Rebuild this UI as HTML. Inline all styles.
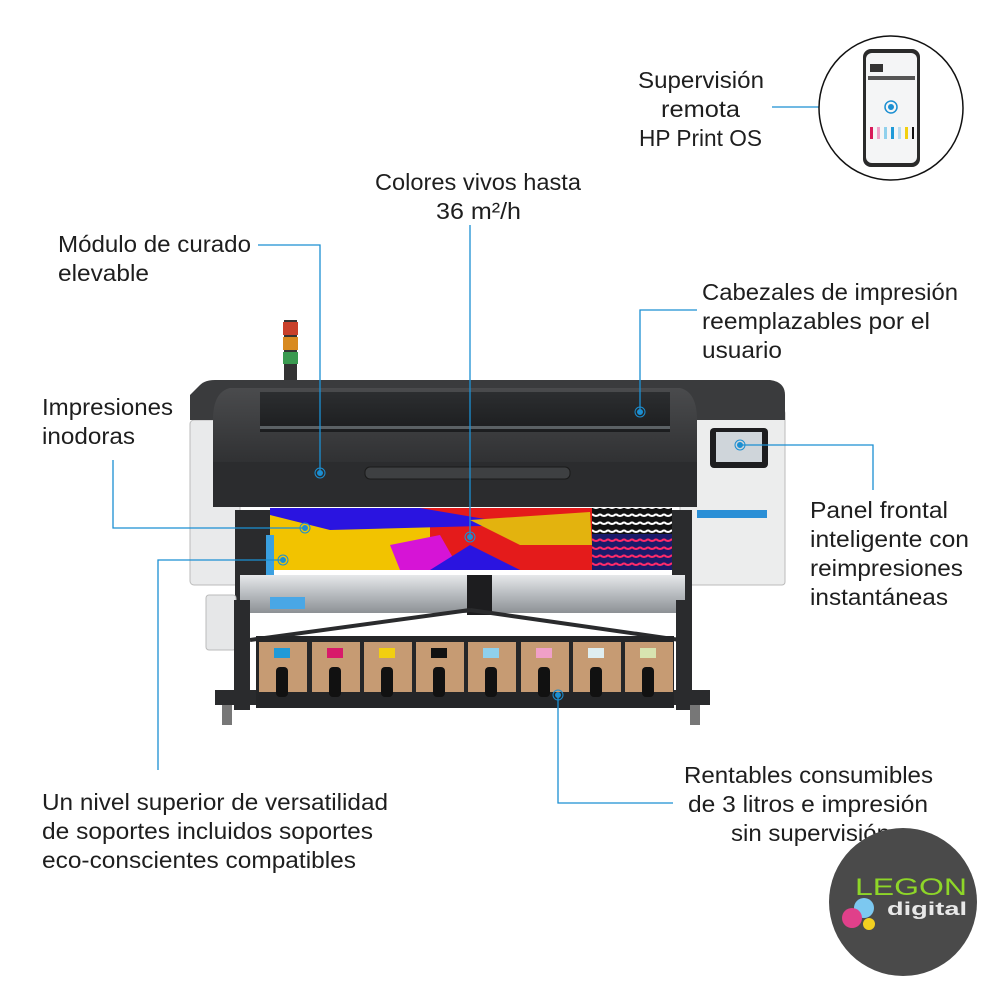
<!DOCTYPE html>
<html><head><meta charset="utf-8"><style>
html,body{margin:0;padding:0;background:#fff;}
svg{display:block;}
text{font-family:"Liberation Sans",sans-serif;font-size:23px;fill:#1e1e1e;}
</style></head><body>
<svg width="1000" height="1000" viewBox="0 0 1000 1000" xmlns="http://www.w3.org/2000/svg">
<defs>
<linearGradient id="body" x1="0" y1="0" x2="0" y2="1"><stop offset="0" stop-color="#4a4b4d"/><stop offset="1" stop-color="#2a2b2d"/></linearGradient>
<linearGradient id="glass" x1="0" y1="0" x2="0" y2="1"><stop offset="0" stop-color="#2c2e30"/><stop offset="1" stop-color="#1c1d1f"/></linearGradient>
<linearGradient id="roll" x1="0" y1="0" x2="0" y2="1"><stop offset="0" stop-color="#e6e8ea"/><stop offset="0.5" stop-color="#b8bcc0"/><stop offset="1" stop-color="#8d9195"/></linearGradient>
<pattern id="zig" width="8" height="8" patternUnits="userSpaceOnUse"><rect width="8" height="8" fill="#111"/><path d="M0 2 Q4 6 8 2" stroke="#fff" stroke-width="2" fill="none"/></pattern>
<pattern id="zig2" width="8" height="8" patternUnits="userSpaceOnUse"><rect width="8" height="8" fill="#1a1a6a"/><path d="M0 3 Q4 7 8 3" stroke="#ff2a6a" stroke-width="2" fill="none"/></pattern>
</defs>

<!-- signal tower -->
<rect x="284" y="320" width="13" height="60" fill="#333"/>
<rect x="283" y="322" width="15" height="13" fill="#c8402a"/>
<rect x="283" y="337" width="15" height="13" fill="#d88a20"/>
<rect x="283" y="352" width="15" height="12" fill="#3a9a50"/>

<!-- side cabinets -->
<rect x="190" y="420" width="50" height="165" rx="4" fill="#e9eaeb" stroke="#bbb"/>
<rect x="680" y="410" width="105" height="175" rx="3" fill="#eceded" stroke="#bbb"/>
<rect x="697" y="510" width="70" height="8" fill="#2a8fd6"/>
<!-- top body -->
<path d="M200 385 Q205 380 215 380 L770 380 Q785 382 785 395 L785 420 L190 420 L190 395 Z" fill="#3a3b3d"/>
<!-- control panel -->
<rect x="710" y="428" width="58" height="40" rx="4" fill="#1d1d1f"/>
<rect x="716" y="432" width="46" height="30" fill="#cfd5da"/>
<!-- front cover -->
<path d="M230 388 L680 388 Q697 392 697 420 L697 480 L213 480 L213 420 Q213 392 230 388 Z" fill="url(#body)"/>
<rect x="260" y="392" width="410" height="40" fill="url(#glass)"/>
<rect x="260" y="426" width="410" height="3" fill="#5b6165"/>
<rect x="213" y="462" width="484" height="45" fill="#2b2c2e"/>
<rect x="365" y="467" width="205" height="12" rx="5" fill="#3e4042" stroke="#1a1a1a"/>
<!-- printed banner -->
<rect x="270" y="508" width="322" height="62" fill="#e41b1b"/>
<polygon points="270,508 330,508 430,525 430,570 270,570" fill="#f2c300"/>
<polygon points="270,508 420,508 520,525 330,530 270,515" fill="#2a14e0"/>
<polygon points="390,545 440,535 460,570 400,570" fill="#d614d6"/>
<polygon points="470,520 590,512 592,545 520,545" fill="#e3b30e"/>
<polygon points="430,570 470,545 520,570" fill="#2a14e0"/>
<rect x="592" y="508" width="80" height="26" fill="url(#zig)"/>
<rect x="592" y="534" width="80" height="36" fill="url(#zig2)"/>
<!-- roll ends -->
<rect x="235" y="510" width="35" height="90" fill="#2a2b2d"/>
<rect x="266" y="535" width="8" height="45" fill="#3aa0e0"/>
<rect x="672" y="510" width="20" height="95" fill="#2a2b2d"/>
<!-- take-up roller -->
<rect x="240" y="575" width="445" height="38" fill="url(#roll)"/>
<rect x="270" y="597" width="35" height="12" fill="#49a7e6"/>
<rect x="467" y="575" width="25" height="40" fill="#1d1d1f"/>
<!-- side bin -->
<rect x="206" y="595" width="30" height="55" rx="3" fill="#e6e7e8" stroke="#bbb"/>
<!-- cross braces -->
<line x1="250" y1="640" x2="470" y2="610" stroke="#2a2b2d" stroke-width="4"/>
<line x1="680" y1="640" x2="470" y2="610" stroke="#2a2b2d" stroke-width="4"/>
<!-- legs -->
<rect x="234" y="600" width="16" height="110" fill="#2a2b2d"/>
<rect x="676" y="600" width="16" height="110" fill="#2a2b2d"/>
<rect x="215" y="690" width="50" height="15" fill="#2a2b2d"/>
<rect x="665" y="690" width="45" height="15" fill="#2a2b2d"/>
<rect x="222" y="705" width="10" height="20" fill="#777"/>
<rect x="690" y="705" width="10" height="20" fill="#777"/>
<!-- ink tray -->
<rect x="256" y="636" width="418" height="72" fill="#252628"/>
<g>
<rect x="259" y="642" width="48" height="50" fill="#c69b73"/>
<rect x="312" y="642" width="48" height="50" fill="#c69b73"/>
<rect x="364" y="642" width="48" height="50" fill="#c69b73"/>
<rect x="416" y="642" width="48" height="50" fill="#c69b73"/>
<rect x="468" y="642" width="48" height="50" fill="#c69b73"/>
<rect x="521" y="642" width="48" height="50" fill="#c69b73"/>
<rect x="573" y="642" width="48" height="50" fill="#c69b73"/>
<rect x="625" y="642" width="48" height="50" fill="#c69b73"/>
<rect x="274" y="648" width="16" height="10" fill="#1f9ad8"/>
<rect x="327" y="648" width="16" height="10" fill="#d81a6a"/>
<rect x="379" y="648" width="16" height="10" fill="#f2cf10"/>
<rect x="431" y="648" width="16" height="10" fill="#111"/>
<rect x="483" y="648" width="16" height="10" fill="#8fd0ec"/>
<rect x="536" y="648" width="16" height="10" fill="#f0a0c8"/>
<rect x="588" y="648" width="16" height="10" fill="#dfeef0"/>
<rect x="640" y="648" width="16" height="10" fill="#d8e4b0"/>
<rect x="276" y="667" width="12" height="30" rx="4" fill="#111"/>
<rect x="329" y="667" width="12" height="30" rx="4" fill="#111"/>
<rect x="381" y="667" width="12" height="30" rx="4" fill="#111"/>
<rect x="433" y="667" width="12" height="30" rx="4" fill="#111"/>
<rect x="485" y="667" width="12" height="30" rx="4" fill="#111"/>
<rect x="538" y="667" width="12" height="30" rx="4" fill="#111"/>
<rect x="590" y="667" width="12" height="30" rx="4" fill="#111"/>
<rect x="642" y="667" width="12" height="30" rx="4" fill="#111"/>
</g>

<!-- connectors -->
<g stroke="#1b8fd2" stroke-width="1.3" fill="none">
<polyline points="258,245 320,245 320,473"/>
<line x1="470" y1="225" x2="470" y2="537"/>
<polyline points="697,310 640,310 640,412"/>
<polyline points="113,460 113,528 305,528"/>
<polyline points="158,770 158,560 283,560"/>
<polyline points="740,445 873,445 873,490"/>
<polyline points="558,695 558,803 673,803"/>
<line x1="772" y1="107" x2="868" y2="107"/>
</g>
<g fill="#1b8fd2" stroke="#1b8fd2">
<circle cx="320" cy="473" r="2.5"/><circle cx="320" cy="473" r="5" fill="none"/>
<circle cx="470" cy="537" r="2.5"/><circle cx="470" cy="537" r="5" fill="none"/>
<circle cx="640" cy="412" r="2.5"/><circle cx="640" cy="412" r="5" fill="none"/>
<circle cx="305" cy="528" r="2.5"/><circle cx="305" cy="528" r="5" fill="none"/>
<circle cx="283" cy="560" r="2.5"/><circle cx="283" cy="560" r="5" fill="none"/>
<circle cx="740" cy="445" r="2.5"/><circle cx="740" cy="445" r="5" fill="none"/>
<circle cx="558" cy="695" r="2.5"/><circle cx="558" cy="695" r="5" fill="none"/>
</g>

<!-- phone circle -->
<circle cx="891" cy="108" r="72" fill="#fff" stroke="#111" stroke-width="1.5"/>
<rect x="863" y="49" width="57" height="118" rx="8" fill="#2a2a2a"/>
<rect x="866" y="53" width="51" height="110" rx="6" fill="#f4f5f6"/>
<rect x="868" y="76" width="47" height="4" fill="#555"/>
<rect x="870" y="64" width="13" height="8" fill="#333"/>
<rect x="870" y="127" width="3" height="12" fill="#d81a5a"/>
<rect x="877" y="127" width="3" height="12" fill="#f0a0c8"/>
<rect x="884" y="127" width="3" height="12" fill="#8fd0ec"/>
<rect x="891" y="127" width="3" height="12" fill="#1f9ad8"/>
<rect x="898" y="127" width="3" height="12" fill="#b8dcef"/>
<rect x="905" y="127" width="3" height="12" fill="#f2cf10"/>
<rect x="912" y="127" width="2" height="12" fill="#111"/>
<circle cx="891" cy="107" r="3" fill="#1b8fd2"/><circle cx="891" cy="107" r="6" fill="none" stroke="#1b8fd2" stroke-width="1.5"/>

<!-- labels -->
<text x="638" y="88" textLength="126" lengthAdjust="spacingAndGlyphs">Supervisión</text>
<text x="661" y="117" textLength="79" lengthAdjust="spacingAndGlyphs">remota</text>
<text x="639" y="146" textLength="123" lengthAdjust="spacingAndGlyphs">HP Print OS</text>
<text x="375" y="190" textLength="206" lengthAdjust="spacingAndGlyphs">Colores vivos hasta</text>
<text x="436" y="219" textLength="85" lengthAdjust="spacingAndGlyphs">36 m²/h</text>
<text x="58" y="252" textLength="193" lengthAdjust="spacingAndGlyphs">Módulo de curado</text>
<text x="58" y="281" textLength="91" lengthAdjust="spacingAndGlyphs">elevable</text>
<text x="702" y="300" textLength="256" lengthAdjust="spacingAndGlyphs">Cabezales de impresión</text>
<text x="702" y="329" textLength="228" lengthAdjust="spacingAndGlyphs">reemplazables por el</text>
<text x="702" y="358" textLength="80" lengthAdjust="spacingAndGlyphs">usuario</text>
<text x="42" y="415" textLength="131" lengthAdjust="spacingAndGlyphs">Impresiones</text>
<text x="42" y="444" textLength="93" lengthAdjust="spacingAndGlyphs">inodoras</text>
<text x="810" y="518" textLength="138" lengthAdjust="spacingAndGlyphs">Panel frontal</text>
<text x="810" y="547" textLength="159" lengthAdjust="spacingAndGlyphs">inteligente con</text>
<text x="810" y="576" textLength="153" lengthAdjust="spacingAndGlyphs">reimpresiones</text>
<text x="810" y="605" textLength="138" lengthAdjust="spacingAndGlyphs">instantáneas</text>
<text x="684" y="783" textLength="249" lengthAdjust="spacingAndGlyphs">Rentables consumibles</text>
<text x="688" y="812" textLength="240" lengthAdjust="spacingAndGlyphs">de 3 litros e impresión</text>
<text x="731" y="841" textLength="159" lengthAdjust="spacingAndGlyphs">sin supervisión</text>
<text x="42" y="810" textLength="346" lengthAdjust="spacingAndGlyphs">Un nivel superior de versatilidad</text>
<text x="42" y="839" textLength="331" lengthAdjust="spacingAndGlyphs">de soportes incluidos soportes</text>
<text x="42" y="868" textLength="314" lengthAdjust="spacingAndGlyphs">eco-conscientes compatibles</text>

<!-- logo -->
<circle cx="903" cy="902" r="74" fill="#4a4a4a"/>
<text x="855" y="895" textLength="112" lengthAdjust="spacingAndGlyphs" style="font-size:24px;fill:#8ed628;">LEGON</text>
<text x="887" y="915" textLength="80" lengthAdjust="spacingAndGlyphs" style="font-size:18px;font-weight:bold;fill:#e8e8e8;">digital</text>
<circle cx="864" cy="908" r="10" fill="#7cc8f0"/>
<circle cx="852" cy="918" r="10" fill="#e0408a"/>
<circle cx="869" cy="924" r="6" fill="#f2d020"/>
</svg>
</body></html>
